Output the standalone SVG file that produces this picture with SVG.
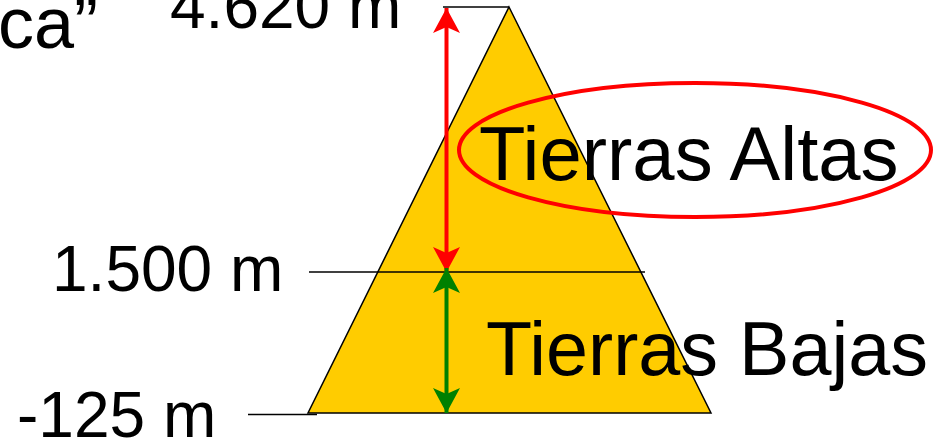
<svg xmlns="http://www.w3.org/2000/svg" width="946" height="444" viewBox="0 0 946 444">
  <style>
    .lbl { font-family: "Liberation Sans", Arial, sans-serif; fill: #000; }
    .rule { stroke: #000; stroke-width: 1.5; fill: none; }
    marker { overflow: visible; }
  </style>
  <defs>
    <marker id="headRed" markerUnits="userSpaceOnUse" markerWidth="1" markerHeight="1" refX="0" refY="0" orient="auto-start-reverse">
      <path d="M0,0 L-25,-13.5 L-19,0 L-25,13.5 Z" fill="#FF0000"/>
    </marker>
    <marker id="headGreen" markerUnits="userSpaceOnUse" markerWidth="1" markerHeight="1" refX="0" refY="0" orient="auto-start-reverse">
      <path d="M0,0 L-25,-13.5 L-19,0 L-25,13.5 Z" fill="#008000"/>
    </marker>
  </defs>
  <rect width="946" height="444" fill="#FFFFFF"/>

  <g id="pyramid">
    <polygon points="509,7 711,413 308,413" fill="#FFCC00" stroke="#000" stroke-width="1.5" stroke-linejoin="miter"/>
  </g>

  <g id="levels">
    <line class="rule" x1="443" y1="7" x2="509" y2="7"/>
    <line class="rule" x1="309" y1="272" x2="645" y2="272"/>
    <line class="rule" x1="248" y1="414.5" x2="317" y2="414.5"/>
  </g>

  <g id="labels">
    <text class="lbl" x="-2" y="48" font-size="72">ca”</text>
    <text class="lbl" x="170" y="28" font-size="64">4.620 m</text>
    <text class="lbl" x="52" y="291" font-size="64">1.500 m</text>
    <text class="lbl" x="17" y="437" font-size="64">-125 m</text>
  </g>

  <g id="tierras-bajas">
    <text class="lbl" x="486" y="375" font-size="75.5">Tierras Bajas</text>
  </g>

  <g id="tierras-altas">
    <text class="lbl" x="479" y="180" font-size="76">Tierras Altas</text>
    <ellipse cx="695" cy="150" rx="236" ry="67" fill="none" stroke="#FF0000" stroke-width="4"/>
  </g>

  <g id="connectors">
    <line x1="446.5" y1="8" x2="446.5" y2="272" stroke="#FF0000" stroke-width="4" marker-start="url(#headRed)" marker-end="url(#headRed)"/>
    <line x1="446.5" y1="268" x2="446.5" y2="413" stroke="#008000" stroke-width="4" marker-start="url(#headGreen)" marker-end="url(#headGreen)"/>
  </g>
</svg>
